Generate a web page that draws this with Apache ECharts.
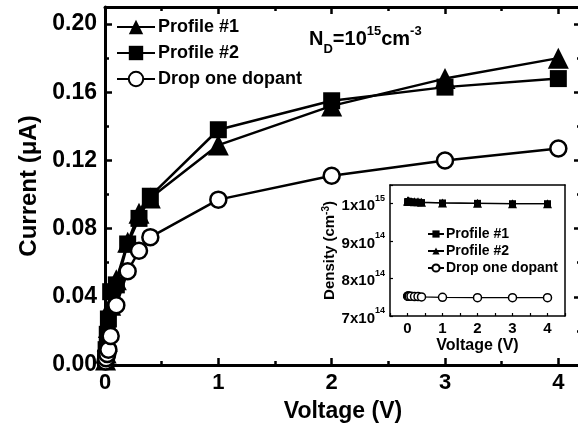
<!DOCTYPE html>
<html><head><meta charset="utf-8">
<script src="https://cdn.jsdelivr.net/npm/echarts@6/dist/echarts.min.js"></script>
<style>html,body{margin:0;padding:0;background:#fff}#c{width:578px;height:428px}</style>
</head><body><div id="c"></div>
<script>
// Main chart data (Voltage V, Current uA)
const voltages = [0.005, 0.01, 0.02, 0.03, 0.05, 0.1, 0.2, 0.3, 0.4, 1, 2, 3, 4];
const profile1 = [0.003, 0.007, 0.014, 0.022, 0.035, 0.050, 0.072, 0.089, 0.098, 0.129, 0.152, 0.168, 0.180];
const profile2 = [0.004, 0.009, 0.018, 0.027, 0.043, 0.047, 0.071, 0.086, 0.099, 0.138, 0.155, 0.163, 0.168];
const dropOne  = [0.002, 0.004, 0.0065, 0.009, 0.017, 0.035, 0.055, 0.067, 0.075, 0.097, 0.111, 0.120, 0.127];
// Inset data (Voltage V, Density cm^-3)
const insetV = [0.005, 0.01, 0.02, 0.03, 0.05, 0.1, 0.2, 0.3, 0.4, 1, 2, 3, 4];
const insetP1 = [1.005e15, 1.005e15, 1.005e15, 1.005e15, 1.005e15, 1.005e15, 1.004e15, 1.004e15, 1.003e15, 1.002e15, 1.001e15, 1.0e15, 1.0e15];
const insetP2 = [1.007e15, 1.007e15, 1.007e15, 1.007e15, 1.006e15, 1.006e15, 1.005e15, 1.005e15, 1.004e15, 1.002e15, 1.001e15, 1.0e15, 1.0e15];
const insetDrop = [7.53e14, 7.53e14, 7.53e14, 7.53e14, 7.53e14, 7.53e14, 7.52e14, 7.52e14, 7.51e14, 7.50e14, 7.49e14, 7.49e14, 7.49e14];
const yTicksMain = ['0.00', '0.04', '0.08', '0.12', '0.16', '0.20'];

const F = 'Liberation Sans, Arial, sans-serif';
const pair = (xs, ys) => xs.map((x, i) => [x, ys[i]]);
const chart = echarts.init(document.getElementById('c'), null, {renderer: 'canvas'});
const axisLine = {show: true, onZero: false, lineStyle: {color: '#000', width: 3}};
const insetAxisLine = {show: true, onZero: false, lineStyle: {color: '#000', width: 1.5}};
const tick = {inside: true, length: 7, lineStyle: {width: 2.5, color: '#000'}};
const minor = {show: true, splitNumber: 2, length: 4, lineStyle: {width: 2.5, color: '#000'}};

function insetYLabel(v) {
  const m = Math.round(v / 1e14);
  if (Math.abs(v / 1e14 - m) > 1e-6) return '';
  if (m === 10) return '{b|1x10}{s|15}';
  return '{b|' + m + 'x10}{s|14}';
}

chart.setOption({
  animation: false,
  backgroundColor: '#fff',
  title: {
    left: 304, top: 20,
    text: '{a|N}{sub|D}{a|=10}{sup|15}{a|cm}{sup|-3}',
    textStyle: {
      rich: {
        a: {fontFamily: F, fontWeight: 'bold', fontSize: 20, color: '#000', lineHeight: 28, verticalAlign: 'middle'},
        sub: {fontFamily: F, fontWeight: 'bold', fontSize: 13, color: '#000', verticalAlign: 'bottom', lineHeight: 28, padding: [0, 0, -3, 0]},
        sup: {fontFamily: F, fontWeight: 'bold', fontSize: 13, color: '#000', verticalAlign: 'top', lineHeight: 28, padding: [0, 0, 0, 0]}
      }
    }
  },
  legend: [{
    orient: 'vertical', left: 111, top: 13, itemGap: 8,
    itemWidth: 38, itemHeight: 18,
    data: ['Profile #1', 'Profile #2', 'Drop one dopant'],
    textStyle: {fontFamily: F, fontWeight: 'bold', fontSize: 18, color: '#000', padding: [0, 0, 0, -2]}
  }, {
    orient: 'vertical', left: 422, top: 222, itemGap: 3,
    itemWidth: 16, itemHeight: 9,
    data: ['Profile #1 ', 'Profile #2 ', 'Drop one dopant '],
    formatter: n => n.trim(),
    textStyle: {fontFamily: F, fontWeight: 'bold', fontSize: 14, color: '#000', padding: [0, 0, 0, -3]}
  }],
  grid: [
    {left: 105, top: 7, width: 476, height: 358, show: false, containLabel: false, outerBoundsMode: 'none'},
    {left: 390, top: 185, width: 175, height: 131, show: true, backgroundColor: '#fff', borderWidth: 0,
     containLabel: false, outerBoundsMode: 'none'}
  ],
  xAxis: [
    {gridIndex: 0, type: 'value', min: 0, max: 4.2, interval: 1,
     name: 'Voltage (V)', nameLocation: 'middle', nameGap: 35,
     nameTextStyle: {fontFamily: F, fontWeight: 'bold', fontSize: 23, color: '#000'},
     axisLine: axisLine, splitLine: {show: false}, axisTick: tick, minorTick: minor,
     axisLabel: {margin: 7, fontFamily: F, fontWeight: 'bold', fontSize: 22, color: '#000',
       formatter: v => (Math.abs(v - Math.round(v)) < 1e-6 ? String(Math.round(v)) : '')}},
    {gridIndex: 0, type: 'value', position: 'top', min: 0, max: 4.2, interval: 1,
     axisLine: axisLine, splitLine: {show: false}, axisLabel: {show: false},
     axisTick: tick, minorTick: minor},
    {gridIndex: 1, type: 'value', min: -0.5, max: 4.5, interval: 0.5,
     name: 'Voltage (V)', nameLocation: 'middle', nameGap: 22,
     nameTextStyle: {fontFamily: F, fontWeight: 'bold', fontSize: 16, color: '#000'},
     axisLine: insetAxisLine, splitLine: {show: false},
     axisTick: {inside: true, length: 3, lineStyle: {width: 1.2, color: '#000'}},
     axisLabel: {margin: 5, fontFamily: F, fontWeight: 'bold', fontSize: 15, color: '#000',
       formatter: v => (Math.abs(v - Math.round(v)) < 1e-6 ? String(Math.round(v)) : '')}},
    {gridIndex: 1, type: 'value', position: 'top', min: -0.5, max: 4.5, interval: 0.5,
     axisLine: insetAxisLine, splitLine: {show: false}, axisLabel: {show: false}, axisTick: {show: false}}
  ],
  yAxis: [
    {gridIndex: 0, type: 'value', min: 0, max: 0.21, interval: 0.04,
     name: 'Current (μA)', nameLocation: 'middle', nameGap: 64, nameRotate: 90,
     nameTextStyle: {fontFamily: F, fontWeight: 'bold', fontSize: 24, color: '#000'},
     axisLine: axisLine, splitLine: {show: false}, axisTick: tick, minorTick: minor,
     axisLabel: {margin: 8, fontFamily: F, fontWeight: 'bold', fontSize: 23, color: '#000',
       formatter: v => { const k = Math.round(v / 0.04); return Math.abs(v / 0.04 - k) < 1e-6 && k < yTicksMain.length ? yTicksMain[k] : ''; }}},
    {gridIndex: 0, type: 'value', position: 'right', min: 0, max: 0.21, interval: 0.04,
     axisLine: axisLine, splitLine: {show: false}, axisLabel: {show: false},
     axisTick: tick, minorTick: minor},
    {gridIndex: 1, type: 'value', min: 7e14, max: 1.05e15, interval: 1e14,
     name: '{n|Density (cm}{s|-3}{n|)}', nameLocation: 'middle', nameGap: 50, nameRotate: 90,
     nameTextStyle: {rich: {
       n: {fontFamily: F, fontWeight: 'bold', fontSize: 15, color: '#000', lineHeight: 18, verticalAlign: 'middle'},
       s: {fontFamily: F, fontWeight: 'bold', fontSize: 10, color: '#000', lineHeight: 18, verticalAlign: 'top'}}},
     axisLine: insetAxisLine, splitLine: {show: false},
     axisTick: {inside: true, length: 3, lineStyle: {width: 1.2, color: '#000'}},
     axisLabel: {margin: 5, formatter: insetYLabel,
       rich: {
         b: {fontFamily: F, fontWeight: 'bold', fontSize: 15, color: '#000', lineHeight: 20, verticalAlign: 'bottom'},
         s: {fontFamily: F, fontWeight: 'bold', fontSize: 9, color: '#000', lineHeight: 20, verticalAlign: 'top'}}}},
    {gridIndex: 1, type: 'value', position: 'right', min: 7e14, max: 1.05e15, interval: 1e14,
     axisLine: insetAxisLine, splitLine: {show: false}, axisLabel: {show: false}, axisTick: {show: false}}
  ],
  series: [
    {name: 'Profile #1', type: 'line', xAxisIndex: 0, yAxisIndex: 0, data: pair(voltages, profile1),
     symbol: 'triangle', symbolSize: 21, itemStyle: {color: '#000'}, lineStyle: {color: '#000', width: 2.5}},
    {name: 'Profile #2', type: 'line', xAxisIndex: 0, yAxisIndex: 0, data: pair(voltages, profile2),
     symbol: 'rect', symbolSize: 17, itemStyle: {color: '#000'}, lineStyle: {color: '#000', width: 2.5}},
    {name: 'Drop one dopant', type: 'line', xAxisIndex: 0, yAxisIndex: 0, data: pair(voltages, dropOne),
     symbol: 'circle', symbolSize: 16, itemStyle: {color: '#fff', borderColor: '#000', borderWidth: 2.5},
     lineStyle: {color: '#000', width: 2.5}},
    {name: 'Profile #1 ', type: 'line', xAxisIndex: 2, yAxisIndex: 2, data: pair(insetV, insetP1),
     symbol: 'rect', symbolSize: 7, itemStyle: {color: '#000'}, lineStyle: {color: '#000', width: 1.2}},
    {name: 'Profile #2 ', type: 'line', xAxisIndex: 2, yAxisIndex: 2, data: pair(insetV, insetP2),
     symbol: 'triangle', symbolSize: 9, itemStyle: {color: '#000'}, lineStyle: {color: '#000', width: 1.2}},
    {name: 'Drop one dopant ', type: 'line', xAxisIndex: 2, yAxisIndex: 2, data: pair(insetV, insetDrop),
     symbol: 'circle', symbolSize: 8, itemStyle: {color: '#fff', borderColor: '#000', borderWidth: 1.5},
     lineStyle: {color: '#000', width: 1.2}}
  ]
});
</script></body></html>
